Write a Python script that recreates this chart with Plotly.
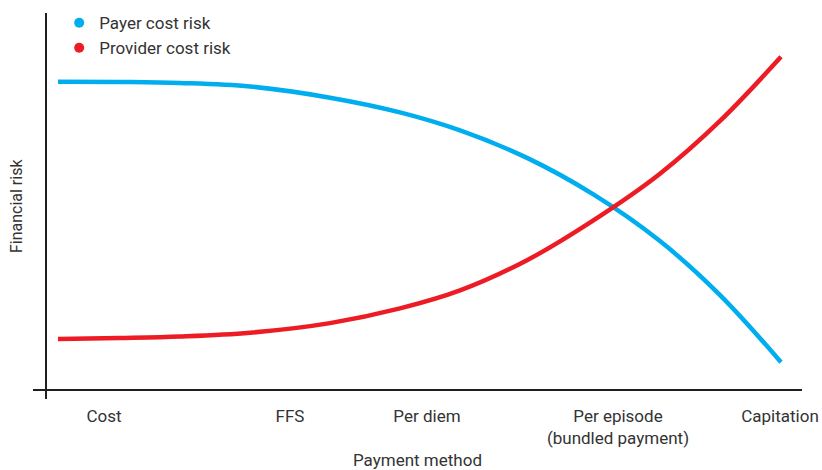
import plotly.graph_objects as go

# Position along the payment-method spectrum (0 = origin of axes)
x_pos = [1.56, 9.62, 17.43, 26.53, 36.93, 46.03, 53.84, 62.55, 71.13, 79.84, 87.65, 95.58]

payer_risk = [79.87, 79.79, 79.53, 78.63, 75.73, 71.92, 67.25, 60.13, 50.73, 38.58, 24.59, 7.20]
provider_risk = [13.21, 13.47, 13.86, 14.84, 17.33, 21.14, 25.80, 33.63, 43.89, 56.04, 69.71, 86.32]

tick_positions = [7.54, 31.73, 49.54, 74.38, 95.45]
tick_labels = ["Cost", "FFS", "Per diem", "Per episode<br>(bundled payment)", "Capitation"]

series_names = ["Payer cost risk", "Provider cost risk"]
colors = ["#00AEEF", "#ED1C24"]
y_title = "Financial risk"
x_title = "Payment method"

FONT = "Roboto"
TEXT_COLOR = "#333333"
AXIS_COLOR = "#231F20"

fig = go.Figure()

for name, vals, col in zip(series_names, [payer_risk, provider_risk], colors):
    fig.add_trace(go.Scatter(
        x=x_pos, y=vals, mode="lines", name=name,
        line=dict(color=col, width=4.5, shape="spline", smoothing=1.0),
        showlegend=False, hoverinfo="skip",
    ))
    # legend entry drawn as a dot
    fig.add_trace(go.Scatter(
        x=[None], y=[None], mode="markers", name=name,
        marker=dict(color=col, size=10, symbol="circle"),
        showlegend=True,
    ))

fig.update_layout(
    width=822, height=470,
    margin=dict(l=33, r=20, t=13, b=71, autoexpand=False),
    plot_bgcolor="white", paper_bgcolor="white",
    font=dict(family=FONT, size=16, color=TEXT_COLOR),
    legend=dict(
        xref="container", yref="container",
        x=0.072, y=0.989, xanchor="left", yanchor="top",
        bgcolor="rgba(0,0,0,0)", borderwidth=0,
        font=dict(family=FONT, size=17, color=TEXT_COLOR),
        itemwidth=30, tracegroupgap=0,
    ),
    xaxis=dict(
        range=[-1.69, 98.31], automargin=False,
        showgrid=False, showline=False,
        zeroline=True, zerolinecolor=AXIS_COLOR, zerolinewidth=2,
        tickmode="array", tickvals=tick_positions, ticktext=tick_labels,
        ticks="", ticklabelstandoff=5,
        tickfont=dict(family=FONT, size=17, color=TEXT_COLOR),
        title=dict(text=x_title, font=dict(family=FONT, size=17, color=TEXT_COLOR), standoff=10),
        fixedrange=True,
    ),
    yaxis=dict(
        range=[-2.33, 97.67], automargin=False,
        showgrid=False, showline=False,
        zeroline=True, zerolinecolor=AXIS_COLOR, zerolinewidth=2,
        showticklabels=False, ticks="",
        fixedrange=True,
    ),
    annotations=[dict(
        text=y_title, textangle=-90,
        xref="paper", yref="paper", x=-0.022, y=0.5,
        xanchor="center", yanchor="middle", showarrow=False,
        font=dict(family=FONT, size=16, color=TEXT_COLOR),
    )],
)

fig.write_html("out.html", config={"displayModeBar": False},
               post_script="document.body.style.margin='0px';")
